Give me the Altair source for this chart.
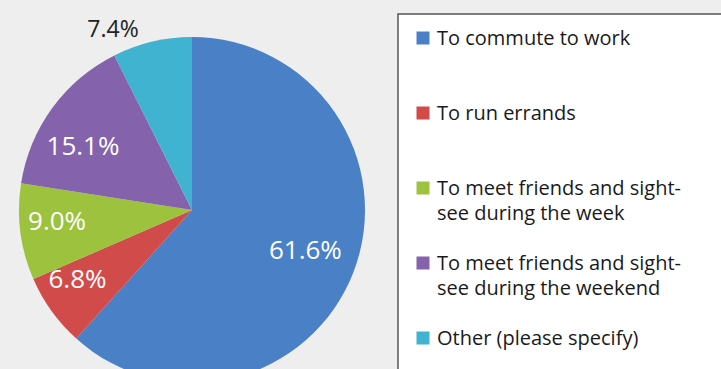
import altair as alt
import pandas as pd

categories = [
    "To commute to work",
    "To run errands",
    "To meet friends and sight-\nsee during the week",
    "To meet friends and sight-\nsee during the weekend",
    "Other (please specify)",
]
values = [61.6, 6.8, 9.0, 15.1, 7.4]
labels = ["61.6%", "6.8%", "9.0%", "15.1%", "7.4%"]
colors = ["#4a80c6", "#d24b4b", "#9cc23e", "#8462ac", "#3fb3d0"]

df = pd.DataFrame({"cat": categories, "value": values, "label": labels,
                   "idx": list(range(len(categories)))})

CX, CY, R = 192, 210, 173

color_scale = alt.Scale(domain=categories, range=colors)

base = alt.Chart(df)

box = alt.Chart(pd.DataFrame({"a": [0]})).mark_rect(
    fill="white", stroke="#555555", strokeWidth=1.5
).encode(x=alt.value(398), x2=alt.value(740), y=alt.value(14), y2=alt.value(400))

arcs = base.mark_arc(outerRadius=R, strokeWidth=0).encode(
    theta=alt.Theta("value:Q", stack=True),
    order=alt.Order("idx:Q"),
    color=alt.Color("cat:N", scale=color_scale, legend=None),
    x=alt.value(CX), y=alt.value(CY),
)

# per-label nudges (pixels) to mimic the original label placement
nudges = {0: (-8, -6), 1: (-9, -6), 2: (-6, -5), 3: (-4, 14)}
label_layers = []
for i, (ddx, ddy) in nudges.items():
    label_layers.append(
        base.mark_text(
            fontSize=26, font="Open Sans", color="white", radius=130, dx=ddx, dy=ddy
        ).encode(
            theta=alt.Theta("value:Q", stack=True),
            order=alt.Order("idx:Q"),
            text="label:N",
            x=alt.value(CX), y=alt.value(CY),
            opacity=alt.condition(alt.datum.idx == i, alt.value(1), alt.value(0)),
        )
    )

outer = base.mark_text(
    fontSize=23, font="Open Sans", color="#222222", radius=182, dx=-37, dy=-3
).encode(
    theta=alt.Theta("value:Q", stack=True),
    order=alt.Order("idx:Q"),
    text="label:N",
    x=alt.value(CX), y=alt.value(CY),
    opacity=alt.condition(alt.datum.idx == 4, alt.value(1), alt.value(0)),
)

ysc = alt.Scale(type="point", domain=categories, range=[38, 338], padding=0)

leg_sq = base.mark_square(size=169, opacity=1).encode(
    x=alt.value(423),
    y=alt.Y("cat:N", scale=ysc, axis=None),
    color=alt.Color("cat:N", scale=color_scale, legend=None),
)

leg_txt = base.mark_text(
    align="left", baseline="alphabetic", dy=7, fontSize=20, font="Open Sans",
    color="#1a1a1a", lineBreak="\n", lineHeight=25
).encode(
    x=alt.value(437),
    y=alt.Y("cat:N", scale=ysc, axis=None),
    text="cat:N",
)

chart = alt.layer(box, arcs, *label_layers, outer, leg_sq, leg_txt).properties(
    width=721, height=369, autosize=alt.AutoSizeParams(type="none"),
    padding=0, background="#eeeeee"
).configure_view(stroke=None)

chart.save("out.html", embed_options={"renderer": "svg", "actions": False})
